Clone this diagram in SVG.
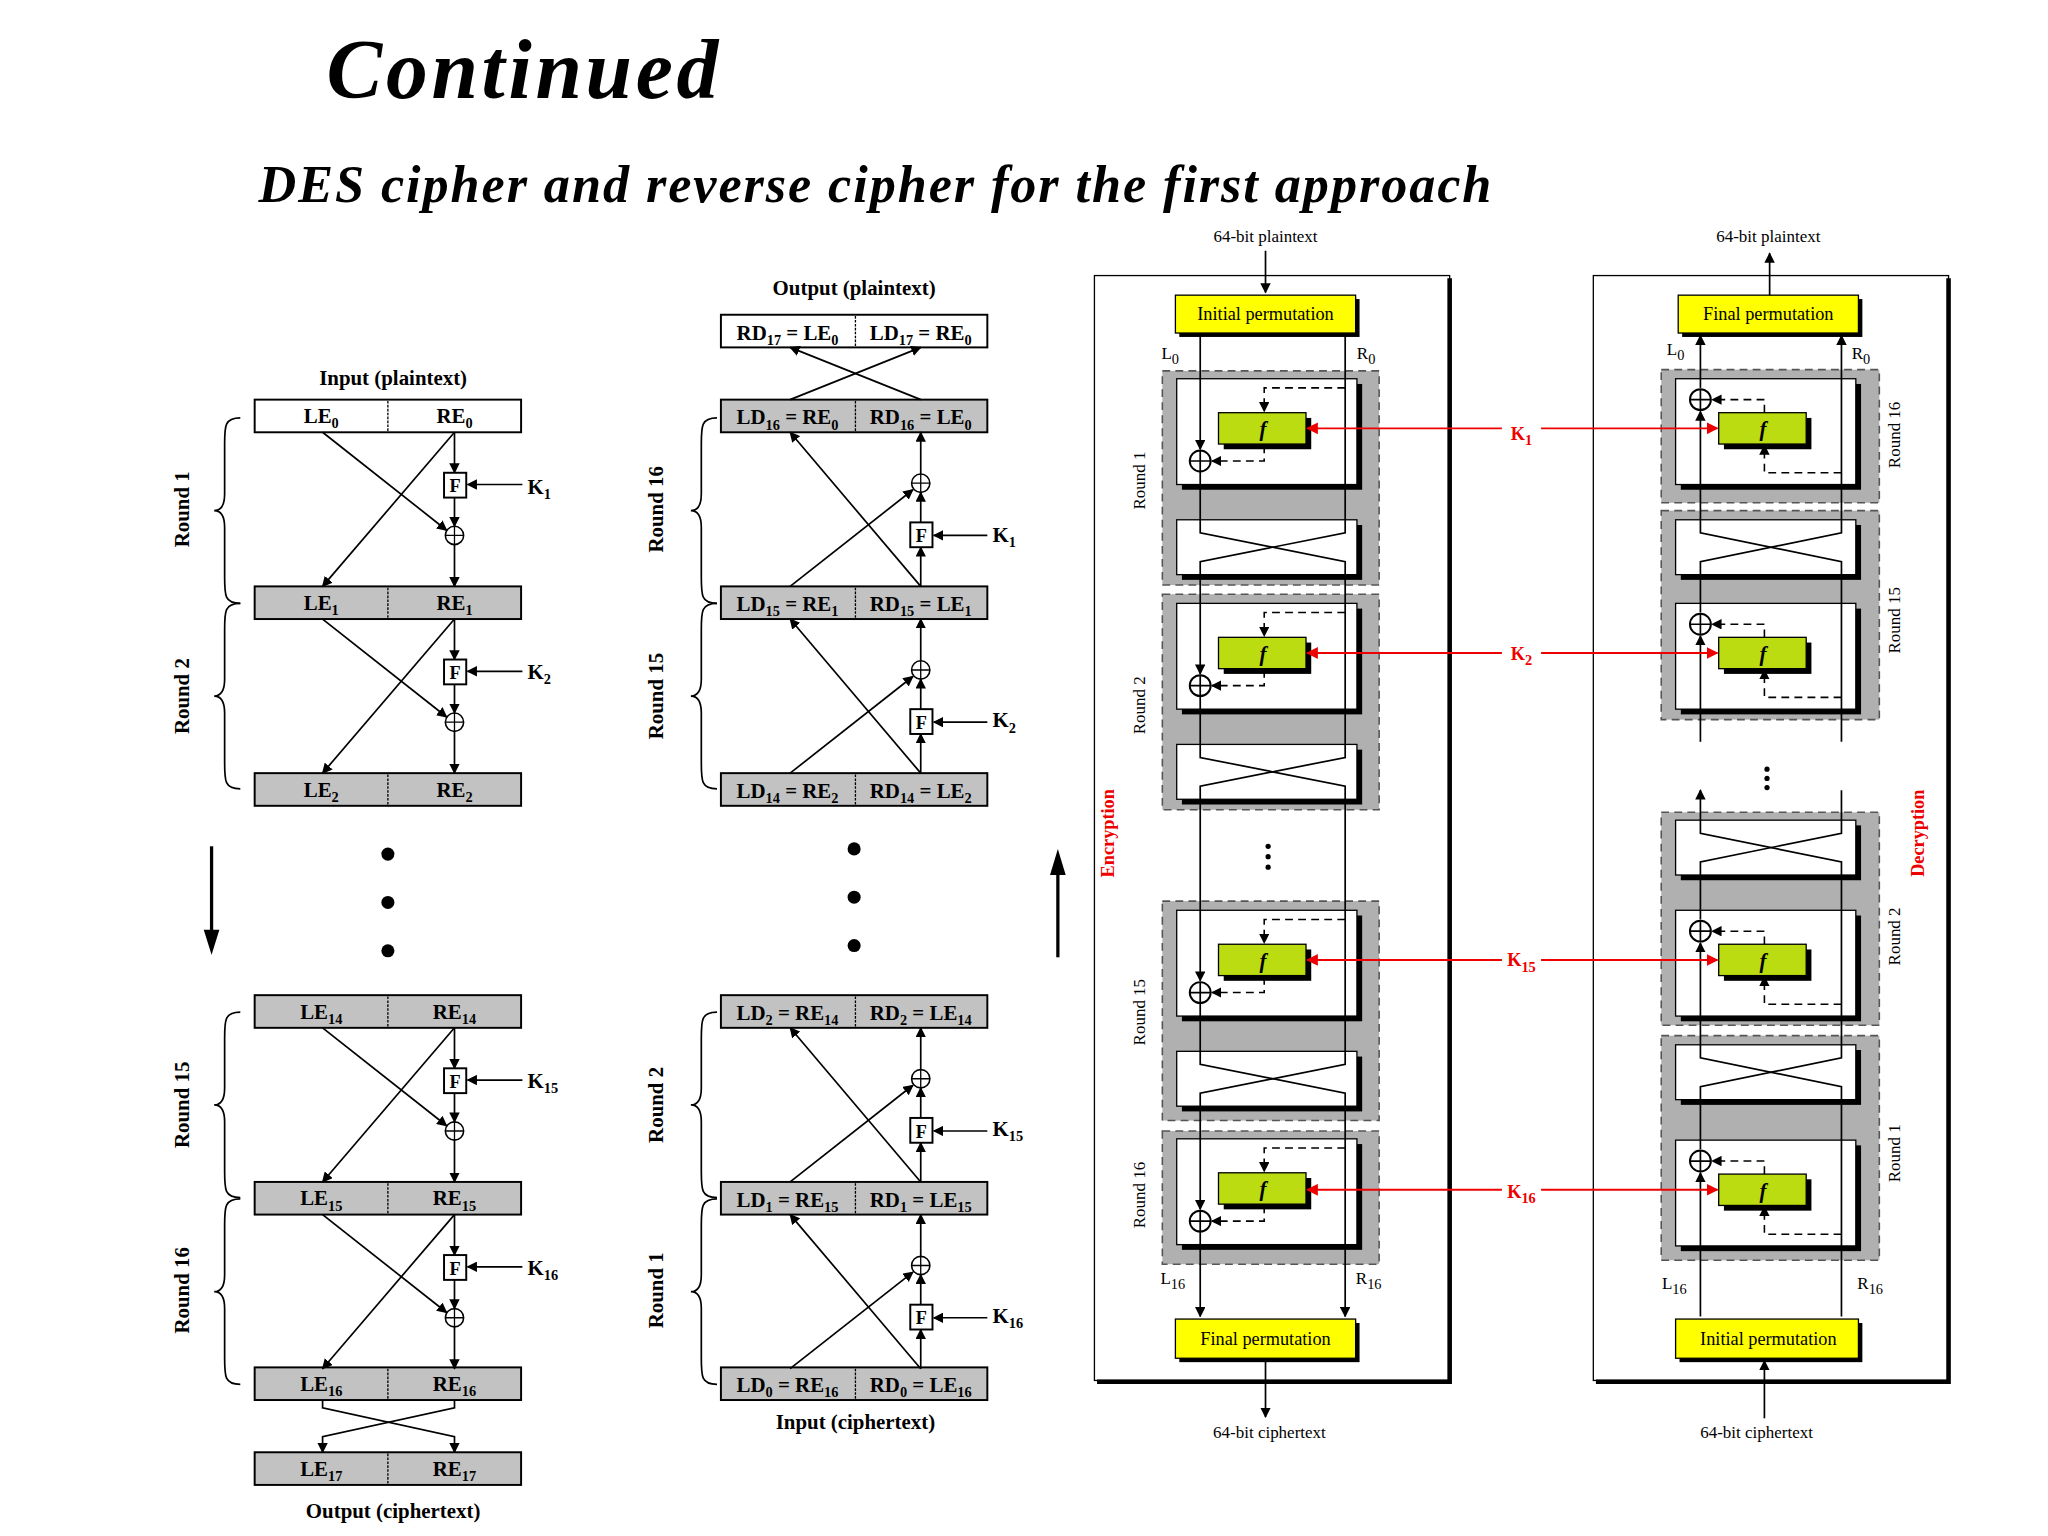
<svg xmlns="http://www.w3.org/2000/svg" xmlns:xlink="http://www.w3.org/1999/xlink" width="2048" height="1536" viewBox="0 0 2048 1536">
<style>
text{font-family:"Liberation Serif","Times New Roman",serif;fill:#000}
.t{font-weight:bold;font-size:16px;text-anchor:middle}
.s{font-size:11px}
.sm{font-size:13px;text-anchor:middle}
.ln{stroke:#000;stroke-width:1.3;fill:none}
.la{stroke:#000;stroke-width:1.3;fill:none;marker-end:url(#a)}
.da{stroke:#000;stroke-width:1.2;fill:none;stroke-dasharray:6 4;marker-end:url(#a)}
.rd{stroke:#e00;stroke-width:1.5;fill:none;marker-end:url(#ar)}
.bw{fill:#fff;stroke:#000;stroke-width:1.5}
.bg{fill:#c2c2c2;stroke:#000;stroke-width:1.5}
.gr{fill:#b0b0b0;stroke:#555;stroke-width:1.2;stroke-dasharray:6 4}
.yl{fill:#ffff00;stroke:#000;stroke-width:1}
.gn{fill:#bcdc12;stroke:#000;stroke-width:1}
.kr{fill:#e00;font-weight:bold;font-size:14px;text-anchor:middle}
</style>
<defs>
<marker id="a" viewBox="0 0 10 10" refX="9" refY="5" markerWidth="8" markerHeight="8" markerUnits="userSpaceOnUse" orient="auto"><path d="M0,0L10,5L0,10z" fill="#000"/></marker>
<marker id="ar" viewBox="0 0 10 10" refX="9" refY="5" markerWidth="9" markerHeight="9" markerUnits="userSpaceOnUse" orient="auto"><path d="M0,0L10,5L0,10z" fill="#e00"/></marker>
<g id="xor"><circle r="7" fill="#fff" stroke="#000" stroke-width="1.2"/><path d="M-7,0H7M0,-7V7" stroke="#000" stroke-width="1"/></g>
<g id="xor2"><circle r="8" fill="none" stroke="#000" stroke-width="1.5"/><path d="M-8,0H8M0,-8V8" stroke="#000" stroke-width="1.3"/></g>
<g id="er">
<path class="la" d="M247,0L342,75"/>
<path class="la" d="M348,0V31"/>
<rect x="340" y="31" width="17" height="19" class="bw"/>
<text x="348.5" y="46" class="t" style="font-size:14px">F</text>
<path class="la" d="M348,50V72"/>
<use xlink:href="#xor" x="348" y="79"/>
<path class="la" d="M348,86V118"/>
<path class="la" d="M348,0L247,118"/>
<path class="la" d="M400,40H358"/>
</g>
<g id="mr">
<path class="la" d="M705,118V88"/>
<rect x="697" y="69" width="17" height="19" class="bw"/>
<text x="705.5" y="84" class="t" style="font-size:14px">F</text>
<path class="la" d="M705,69V46"/>
<use xlink:href="#xor" x="705" y="39"/>
<path class="la" d="M705,32V0"/>
<path class="la" d="M605,118L699,44"/>
<path class="la" d="M705,118L605,0"/>
<path class="la" d="M756,79H715"/>
</g>
<g id="brace"><path class="ln" d="M12,0C0,0 0,6 0,20V58C0,66 -2,71 -8,71C-2,71 0,76 0,84V122C0,136 0,142 12,142"/></g>
<g id="wb"><rect x="4" y="4" width="138" height="81" fill="#000"/><rect x="0" y="0" width="138" height="81" fill="#fff" stroke="#000" stroke-width="1"/></g>
<g id="sw"><rect x="4" y="4" width="138" height="42" fill="#000"/><rect x="0" y="0" width="138" height="42" fill="#fff" stroke="#000" stroke-width="1"/></g>
<g id="fb"><rect x="4" y="4" width="67" height="24" fill="#000"/><rect x="0" y="0" width="67" height="24" class="gn"/><text x="34" y="18" style="font-style:italic;font-weight:bold;font-size:16px;text-anchor:middle">f</text></g>
</defs>
<g transform="scale(1.306)">
<text x="250" y="75" textLength="300" style="font-weight:bold;font-style:italic;font-size:64px">Continued</text>
<text x="198" y="155" textLength="944" style="font-weight:bold;font-style:italic;font-size:40px">DES cipher and reverse cipher for the first approach</text>

<g id="left">
<text x="301" y="295" class="t">Input (plaintext)</text>
<g id="lb0"><rect x="195" y="306" width="204" height="25" class="bw"/><path d="M297,307V330" stroke="#000" stroke-dasharray="2 1"/><text x="246" y="324" class="t">LE<tspan class="s" dy="4">0</tspan></text><text x="348" y="324" class="t">RE<tspan class="s" dy="4">0</tspan></text></g>
<g id="lb1"><rect x="195" y="449" width="204" height="25" class="bg"/><path d="M297,450V473" stroke="#000" stroke-dasharray="2 1"/><text x="246" y="467" class="t">LE<tspan class="s" dy="4">1</tspan></text><text x="348" y="467" class="t">RE<tspan class="s" dy="4">1</tspan></text></g>
<g id="lb2"><rect x="195" y="592" width="204" height="25" class="bg"/><path d="M297,593V616" stroke="#000" stroke-dasharray="2 1"/><text x="246" y="610" class="t">LE<tspan class="s" dy="4">2</tspan></text><text x="348" y="610" class="t">RE<tspan class="s" dy="4">2</tspan></text></g>
<g id="lb14"><rect x="195" y="762" width="204" height="25" class="bg"/><path d="M297,763V786" stroke="#000" stroke-dasharray="2 1"/><text x="246" y="780" class="t">LE<tspan class="s" dy="4">14</tspan></text><text x="348" y="780" class="t">RE<tspan class="s" dy="4">14</tspan></text></g>
<g id="lb15"><rect x="195" y="905" width="204" height="25" class="bg"/><path d="M297,906V929" stroke="#000" stroke-dasharray="2 1"/><text x="246" y="923" class="t">LE<tspan class="s" dy="4">15</tspan></text><text x="348" y="923" class="t">RE<tspan class="s" dy="4">15</tspan></text></g>
<g id="lb16"><rect x="195" y="1047" width="204" height="25" class="bg"/><path d="M297,1048V1071" stroke="#000" stroke-dasharray="2 1"/><text x="246" y="1065" class="t">LE<tspan class="s" dy="4">16</tspan></text><text x="348" y="1065" class="t">RE<tspan class="s" dy="4">16</tspan></text></g>
<g id="lb17"><rect x="195" y="1112" width="204" height="25" class="bg"/><path d="M297,1113V1136" stroke="#000" stroke-dasharray="2 1"/><text x="246" y="1130" class="t">LE<tspan class="s" dy="4">17</tspan></text><text x="348" y="1130" class="t">RE<tspan class="s" dy="4">17</tspan></text></g>
<text x="301" y="1162" class="t">Output (ciphertext)</text>
<text x="145" y="390" class="t" transform="rotate(-90 145 390)">Round 1</text>
<text x="145" y="533" class="t" transform="rotate(-90 145 533)">Round 2</text>
<text x="145" y="846" class="t" transform="rotate(-90 145 846)">Round 15</text>
<text x="145" y="988" class="t" transform="rotate(-90 145 988)">Round 16</text>
<text x="404" y="378" class="t" style="text-anchor:start">K<tspan class="s" dy="4">1</tspan></text>
<text x="404" y="520" class="t" style="text-anchor:start">K<tspan class="s" dy="4">2</tspan></text>
<text x="404" y="833" class="t" style="text-anchor:start">K<tspan class="s" dy="4">15</tspan></text>
<text x="404" y="976" class="t" style="text-anchor:start">K<tspan class="s" dy="4">16</tspan></text>
<circle cx="297" cy="654" r="5"/><circle cx="297" cy="691" r="5"/><circle cx="297" cy="728" r="5"/>
<path d="M162,648V715" stroke="#000" stroke-width="2.5"/><path d="M156,712L162,731L168,712z"/>
</g>
<g id="left-connectors">
<use xlink:href="#er" y="331"/><use xlink:href="#er" y="474"/><use xlink:href="#er" y="787"/><use xlink:href="#er" y="930"/>
<use xlink:href="#brace" x="172" y="320"/><use xlink:href="#brace" x="172" y="462"/><use xlink:href="#brace" x="172" y="775"/><use xlink:href="#brace" x="172" y="918"/>
<path class="la" d="M247,1072V1078L348,1100V1112"/>
<path class="la" d="M348,1072V1078L247,1100V1112"/>
</g>

<g id="middle">
<text x="654" y="226" class="t">Output (plaintext)</text>
<g id="mb17"><rect x="552" y="241" width="204" height="25" class="bw"/><path d="M655,242V265" stroke="#000" stroke-dasharray="2 1"/><text x="603" y="260" class="t">RD<tspan class="s" dy="4">17</tspan><tspan dy="-4"> = LE</tspan><tspan class="s" dy="4">0</tspan></text><text x="705" y="260" class="t">LD<tspan class="s" dy="4">17</tspan><tspan dy="-4"> = RE</tspan><tspan class="s" dy="4">0</tspan></text></g>
<g id="mb16"><rect x="552" y="306" width="204" height="25" class="bg"/><path d="M655,307V330" stroke="#000" stroke-dasharray="2 1"/><text x="603" y="325" class="t">LD<tspan class="s" dy="4">16</tspan><tspan dy="-4"> = RE</tspan><tspan class="s" dy="4">0</tspan></text><text x="705" y="325" class="t">RD<tspan class="s" dy="4">16</tspan><tspan dy="-4"> = LE</tspan><tspan class="s" dy="4">0</tspan></text></g>
<g id="mb15"><rect x="552" y="449" width="204" height="25" class="bg"/><path d="M655,450V473" stroke="#000" stroke-dasharray="2 1"/><text x="603" y="468" class="t">LD<tspan class="s" dy="4">15</tspan><tspan dy="-4"> = RE</tspan><tspan class="s" dy="4">1</tspan></text><text x="705" y="468" class="t">RD<tspan class="s" dy="4">15</tspan><tspan dy="-4"> = LE</tspan><tspan class="s" dy="4">1</tspan></text></g>
<g id="mb14"><rect x="552" y="592" width="204" height="25" class="bg"/><path d="M655,593V616" stroke="#000" stroke-dasharray="2 1"/><text x="603" y="611" class="t">LD<tspan class="s" dy="4">14</tspan><tspan dy="-4"> = RE</tspan><tspan class="s" dy="4">2</tspan></text><text x="705" y="611" class="t">RD<tspan class="s" dy="4">14</tspan><tspan dy="-4"> = LE</tspan><tspan class="s" dy="4">2</tspan></text></g>
<g id="mb2"><rect x="552" y="762" width="204" height="25" class="bg"/><path d="M655,763V786" stroke="#000" stroke-dasharray="2 1"/><text x="603" y="781" class="t">LD<tspan class="s" dy="4">2</tspan><tspan dy="-4"> = RE</tspan><tspan class="s" dy="4">14</tspan></text><text x="705" y="781" class="t">RD<tspan class="s" dy="4">2</tspan><tspan dy="-4"> = LE</tspan><tspan class="s" dy="4">14</tspan></text></g>
<g id="mb1"><rect x="552" y="905" width="204" height="25" class="bg"/><path d="M655,906V929" stroke="#000" stroke-dasharray="2 1"/><text x="603" y="924" class="t">LD<tspan class="s" dy="4">1</tspan><tspan dy="-4"> = RE</tspan><tspan class="s" dy="4">15</tspan></text><text x="705" y="924" class="t">RD<tspan class="s" dy="4">1</tspan><tspan dy="-4"> = LE</tspan><tspan class="s" dy="4">15</tspan></text></g>
<g id="mb0"><rect x="552" y="1047" width="204" height="25" class="bg"/><path d="M655,1048V1071" stroke="#000" stroke-dasharray="2 1"/><text x="603" y="1066" class="t">LD<tspan class="s" dy="4">0</tspan><tspan dy="-4"> = RE</tspan><tspan class="s" dy="4">16</tspan></text><text x="705" y="1066" class="t">RD<tspan class="s" dy="4">0</tspan><tspan dy="-4"> = LE</tspan><tspan class="s" dy="4">16</tspan></text></g>
<text x="655" y="1094" class="t">Input (ciphertext)</text>
<text x="508" y="390" class="t" transform="rotate(-90 508 390)">Round 16</text>
<text x="508" y="533" class="t" transform="rotate(-90 508 533)">Round 15</text>
<text x="508" y="846" class="t" transform="rotate(-90 508 846)">Round 2</text>
<text x="508" y="988" class="t" transform="rotate(-90 508 988)">Round 1</text>
<text x="760" y="415" class="t" style="text-anchor:start">K<tspan class="s" dy="4">1</tspan></text>
<text x="760" y="557" class="t" style="text-anchor:start">K<tspan class="s" dy="4">2</tspan></text>
<text x="760" y="870" class="t" style="text-anchor:start">K<tspan class="s" dy="4">15</tspan></text>
<text x="760" y="1013" class="t" style="text-anchor:start">K<tspan class="s" dy="4">16</tspan></text>
<circle cx="654" cy="650" r="5"/><circle cx="654" cy="687" r="5"/><circle cx="654" cy="724" r="5"/>
<path d="M810,733V667" stroke="#000" stroke-width="2.5"/><path d="M804,670L810,650L816,670z"/>
</g>
<g id="middle-connectors">
<use xlink:href="#mr" y="331"/><use xlink:href="#mr" y="474"/><use xlink:href="#mr" y="787"/><use xlink:href="#mr" y="930"/>
<use xlink:href="#brace" x="537" y="320"/><use xlink:href="#brace" x="537" y="462"/><use xlink:href="#brace" x="537" y="775"/><use xlink:href="#brace" x="537" y="918"/>
<path class="la" d="M605,306L705,266"/>
<path class="la" d="M705,306L605,266"/>
</g>

<g id="enc">
<rect x="838" y="211" width="272" height="846" fill="none" stroke="#000" stroke-width="1"/>
<path d="M1110,213V1058H840" stroke="#000" stroke-width="3.5" fill="none"/>
<text x="969" y="185" class="sm">64-bit plaintext</text>
<rect x="903" y="229" width="138" height="29" fill="#000"/><rect x="900" y="226" width="138" height="29" class="yl"/>
<text x="969" y="245" class="sm" style="font-size:14px">Initial permutation</text>
<rect x="903" y="1013" width="138" height="30" fill="#000"/><rect x="900" y="1010" width="138" height="30" class="yl"/>
<text x="969" y="1030" class="sm" style="font-size:14px">Final permutation</text>
<text x="972" y="1101" class="sm">64-bit ciphertext</text>
<text x="896" y="275" class="sm">L<tspan class="s" dy="4">0</tspan></text>
<text x="1046" y="275" class="sm">R<tspan class="s" dy="4">0</tspan></text>
<text x="898" y="983" class="sm">L<tspan class="s" dy="4">16</tspan></text>
<text x="1048" y="983" class="sm">R<tspan class="s" dy="4">16</tspan></text>
<rect x="890" y="284" width="166" height="164" class="gr"/>
<rect x="890" y="455" width="166" height="165" class="gr"/>
<rect x="890" y="690" width="166" height="168" class="gr"/>
<rect x="890" y="866" width="166" height="102" class="gr"/>
<use xlink:href="#wb" x="901" y="290"/><use xlink:href="#sw" x="901" y="398"/>
<use xlink:href="#wb" x="901" y="462"/><use xlink:href="#sw" x="901" y="570"/>
<use xlink:href="#wb" x="901" y="697"/><use xlink:href="#sw" x="901" y="805"/>
<use xlink:href="#wb" x="901" y="872"/>
<use xlink:href="#fb" x="933" y="316"/><use xlink:href="#fb" x="933" y="488"/><use xlink:href="#fb" x="933" y="723"/><use xlink:href="#fb" x="933" y="898"/>
<use xlink:href="#xor2" x="919" y="353"/><use xlink:href="#xor2" x="919" y="525"/><use xlink:href="#xor2" x="919" y="760"/><use xlink:href="#xor2" x="919" y="935"/>
<text x="877" y="368" class="sm" transform="rotate(-90 877 368)">Round 1</text>
<text x="877" y="540" class="sm" transform="rotate(-90 877 540)">Round 2</text>
<text x="877" y="775" class="sm" transform="rotate(-90 877 775)">Round 15</text>
<text x="877" y="915" class="sm" transform="rotate(-90 877 915)">Round 16</text>
<text x="853" y="638" class="kr" transform="rotate(-90 853 638)">Encryption</text>
<circle cx="971" cy="648" r="2"/><circle cx="971" cy="656" r="2"/><circle cx="971" cy="664" r="2"/>
</g>

<g id="dec">
<rect x="1220" y="211" width="272" height="846" fill="none" stroke="#000" stroke-width="1"/>
<path d="M1492,213V1058H1222" stroke="#000" stroke-width="3.5" fill="none"/>
<text x="1354" y="185" class="sm">64-bit plaintext</text>
<rect x="1288" y="229" width="138" height="29" fill="#000"/><rect x="1285" y="226" width="138" height="29" class="yl"/>
<text x="1354" y="245" class="sm" style="font-size:14px">Final permutation</text>
<rect x="1286" y="1013" width="140" height="30" fill="#000"/><rect x="1283" y="1010" width="140" height="30" class="yl"/>
<text x="1354" y="1030" class="sm" style="font-size:14px">Initial permutation</text>
<text x="1345" y="1101" class="sm">64-bit ciphertext</text>
<text x="1283" y="272" class="sm">L<tspan class="s" dy="4">0</tspan></text>
<text x="1425" y="275" class="sm">R<tspan class="s" dy="4">0</tspan></text>
<text x="1282" y="987" class="sm">L<tspan class="s" dy="4">16</tspan></text>
<text x="1432" y="987" class="sm">R<tspan class="s" dy="4">16</tspan></text>
<rect x="1272" y="283" width="167" height="102" class="gr"/>
<rect x="1272" y="391" width="167" height="160" class="gr"/>
<rect x="1272" y="622" width="167" height="163" class="gr"/>
<rect x="1272" y="793" width="167" height="172" class="gr"/>
<use xlink:href="#wb" x="1283" y="290"/>
<use xlink:href="#sw" x="1283" y="398"/><use xlink:href="#wb" x="1283" y="462"/>
<use xlink:href="#sw" x="1283" y="628"/><use xlink:href="#wb" x="1283" y="697"/>
<use xlink:href="#sw" x="1283" y="800"/><use xlink:href="#wb" x="1283" y="873"/>
<use xlink:href="#fb" x="1316" y="316"/><use xlink:href="#fb" x="1316" y="488"/><use xlink:href="#fb" x="1316" y="723"/><use xlink:href="#fb" x="1316" y="899"/>
<use xlink:href="#xor2" x="1302" y="306"/><use xlink:href="#xor2" x="1302" y="478"/><use xlink:href="#xor2" x="1302" y="713"/><use xlink:href="#xor2" x="1302" y="889"/>
<text x="1455" y="333" class="sm" transform="rotate(-90 1455 333)">Round 16</text>
<text x="1455" y="475" class="sm" transform="rotate(-90 1455 475)">Round 15</text>
<text x="1455" y="717" class="sm" transform="rotate(-90 1455 717)">Round 2</text>
<text x="1455" y="883" class="sm" transform="rotate(-90 1455 883)">Round 1</text>
<text x="1473" y="638" class="kr" transform="rotate(-90 1473 638)">Decryption</text>
<circle cx="1353" cy="589" r="2"/><circle cx="1353" cy="596" r="2"/><circle cx="1353" cy="603" r="2"/>
<text x="1165" y="337" class="kr">K<tspan class="s" dy="4">1</tspan></text>
<text x="1165" y="505" class="kr">K<tspan class="s" dy="4">2</tspan></text>
<text x="1165" y="740" class="kr">K<tspan class="s" dy="4">15</tspan></text>
<text x="1165" y="917" class="kr">K<tspan class="s" dy="4">16</tspan></text>
</g>

<g id="right-connectors">
<path class="la" d="M969,192V224"/>
<path class="la" d="M969,1040V1085"/>
<path class="la" d="M1355,226V194"/>
<path class="la" d="M1351,1086V1042"/>
<path class="la" d="M919,255V344"/>
<path class="la" d="M919,361V408L1030,430V580L919,602V751"/>
<path class="la" d="M1030,255V408L919,430V516"/>
<path class="la" d="M919,533V580L1030,602V815L919,837V926"/>
<path class="la" d="M919,768V815L1030,837V1008"/>
<path class="la" d="M919,943V1008"/>
<path class="da" d="M1030,297H968V315"/><path class="da" d="M968,341V353H928"/>
<path class="da" d="M1030,469H968V487"/><path class="da" d="M968,513V525H928"/>
<path class="da" d="M1030,704H968V722"/><path class="da" d="M968,748V760H928"/>
<path class="da" d="M1030,879H968V897"/><path class="da" d="M968,923V935H928"/>
<path class="la" d="M1302,1008V898"/>
<path class="la" d="M1410,1008V832L1302,810V722"/>
<path class="la" d="M1302,880V832L1410,810V660L1302,638V605"/>
<path class="la" d="M1302,568V487"/>
<path class="ln" d="M1302,704V660L1410,638V605"/>
<path class="la" d="M1410,568V430L1302,408V315"/>
<path class="la" d="M1302,469V430L1410,408V257"/>
<path class="la" d="M1302,297V257"/>
<path class="da" d="M1410,362H1351V341"/><path class="da" d="M1351,316V306H1311"/>
<path class="da" d="M1410,534H1351V513"/><path class="da" d="M1351,488V478H1311"/>
<path class="da" d="M1410,769H1351V748"/><path class="da" d="M1351,723V713H1311"/>
<path class="da" d="M1410,945H1351V924"/><path class="da" d="M1351,899V889H1311"/>
<path class="rd" d="M1150,328H1001"/><path class="rd" d="M1180,328H1315"/>
<path class="rd" d="M1150,500H1001"/><path class="rd" d="M1180,500H1315"/>
<path class="rd" d="M1150,735H1001"/><path class="rd" d="M1180,735H1315"/>
<path class="rd" d="M1150,911H1001"/><path class="rd" d="M1180,911H1315"/>
</g>
</g>
</svg>
